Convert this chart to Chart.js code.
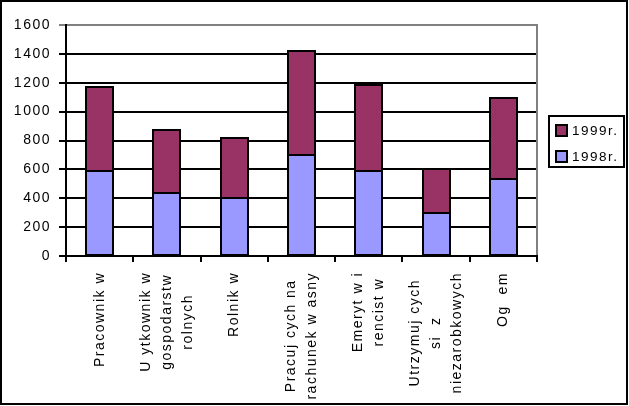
<!DOCTYPE html>
<html>
<head>
<meta charset="utf-8">
<script src="https://cdn.jsdelivr.net/npm/chart.js@4/dist/chart.umd.min.js"></script>
<style>
  body { margin: 0; background: #fff; }
  canvas { display: block; }
</style>
</head>
<body>
<canvas id="chart" width="629" height="406"></canvas>
<script>
// kategorie (tekst jak na oryginale, bez polskich znaków)
const categories = [
    ['Pracownik w'],
    ['U ytkownik w', 'gospodarstw', 'rolnych'],
    ['Rolnik w'],
    ['Pracuj cych na', 'rachunek w asny'],
    ['Emeryt w i', 'rencist w'],
    ['Utrzymuj cych', 'si  z', 'niezarobkowych'],
    ['Og  em']
];
const values1998 = [586, 437, 402, 703, 586, 299, 531];
const values1999 = [586, 434, 414, 718, 598, 301, 566];
const yTicks = [0, 200, 400, 600, 800, 1000, 1200, 1400, 1600];

const FONT = '"Liberation Sans", Arial, sans-serif';

// rysuje ramkę, obrys słupków, etykiety osi X i legendę
const excelLook = {
    id: 'excelLook',
    beforeDraw(chart) {
        chart.ctx.letterSpacing = '1.5px';
    },
    afterDatasetsDraw(chart) {
        const ctx = chart.ctx;
        ctx.save();
        ctx.strokeStyle = '#000';
        ctx.lineWidth = 2;
        chart.data.datasets.forEach((ds, di) => {
            chart.getDatasetMeta(di).data.forEach(bar => {
                const p = bar.getProps(['x', 'y', 'base', 'width'], true);
                const l = Math.round(p.x - p.width / 2);
                const r = Math.round(p.x + p.width / 2);
                const t = Math.round(Math.min(p.y, p.base));
                const b = Math.round(Math.max(p.y, p.base));
                ctx.strokeRect(l, t, r - l, b - t);
            });
        });
        ctx.restore();
    },
    afterDraw(chart) {
        const ctx = chart.ctx;
        const area = chart.chartArea;
        const x = chart.scales.x;
        ctx.save();

        // prawa szara krawędź obszaru
        ctx.strokeStyle = '#808080';
        ctx.lineWidth = 2;
        ctx.beginPath();
        ctx.moveTo(Math.round(area.right), area.top - 1);
        ctx.lineTo(Math.round(area.right), area.bottom - 1);
        ctx.stroke();

        // etykiety kategorii, obrócone
        ctx.fillStyle = '#000';
        ctx.font = '14px ' + FONT;
        ctx.letterSpacing = '1.5px';
        ctx.textAlign = 'center';
        ctx.textBaseline = 'middle';
        const lineH = 21;
        categories.forEach((lines, i) => {
            const cx = x.getPixelForTick(i);
            const maxW = Math.max(...lines.map(l => ctx.measureText(l).width));
            ctx.save();
            ctx.translate(cx, area.bottom + 16);
            ctx.rotate(-Math.PI / 2);
            lines.forEach((l, j) => {
                ctx.fillText(l, -maxW / 2, (j - (lines.length - 1) / 2) * lineH);
            });
            ctx.restore();
        });

        // legenda (odwrócona kolejność)
        const lx = 549, ly = 116, lw = 75, lh = 51;
        ctx.strokeStyle = '#000';
        ctx.lineWidth = 2;
        ctx.strokeRect(lx, ly, lw, lh);
        ctx.font = '13.5px ' + FONT;
        ctx.textAlign = 'left';
        const items = chart.data.datasets.slice().reverse();
        items.forEach((ds, i) => {
            const yy = ly + 14 + i * 26;
            ctx.fillStyle = ds.backgroundColor;
            ctx.fillRect(lx + 7, yy - 5, 11, 11);
            ctx.strokeRect(lx + 7, yy - 5, 11, 11);
            ctx.fillStyle = '#000';
            ctx.fillText(ds.label, lx + 23, yy + 1);
        });

        // ramka całości
        ctx.lineWidth = 2;
        ctx.strokeRect(1, 1, chart.width - 3, chart.height - 3);
        ctx.restore();
    }
};

new Chart(document.getElementById('chart'), {
    type: 'bar',
    data: {
        labels: categories,
        datasets: [
            {
                label: '1998r.',
                data: values1998,
                backgroundColor: '#9999FF',
                borderWidth: 0
            },
            {
                label: '1999r.',
                data: values1999,
                backgroundColor: '#993366',
                borderWidth: 0
            }
        ]
    },
    options: {
        responsive: false,
        animation: false,
        layout: { padding: { top: 25, right: 92, left: 0, bottom: 0 } },
        datasets: { bar: { barPercentage: 0.4, categoryPercentage: 1, inflateAmount: 0 } },
        plugins: {
            legend: { display: false },
            tooltip: { enabled: false }
        },
        scales: {
            x: {
                stacked: true,
                offset: true,
                grid: {
                    offset: true,
                    drawOnChartArea: false,
                    drawTicks: true,
                    tickLength: 6,
                    color: '#000',
                    lineWidth: 2
                },
                border: { color: '#000', width: 2 },
                ticks: { display: false },
                afterFit: scale => { scale.height = 150; }
            },
            y: {
                stacked: true,
                min: 0,
                max: 1600,
                afterBuildTicks: scale => {
                    scale.ticks = yTicks.map(v => ({ value: v }));
                },
                grid: {
                    color: ctx => ctx.tick && ctx.tick.value === 1600 ? '#808080' : '#000',
                    lineWidth: 2,
                    tickLength: 7
                },
                border: { color: '#000', width: 2 },
                ticks: {
                    color: '#000',
                    padding: 8,
                    font: { family: FONT, size: 14 },
                    callback: v => String(v)
                },
                afterFit: scale => { scale.width = 66; }
            }
        }
    },
    plugins: [excelLook]
});
</script>
</body>
</html>
